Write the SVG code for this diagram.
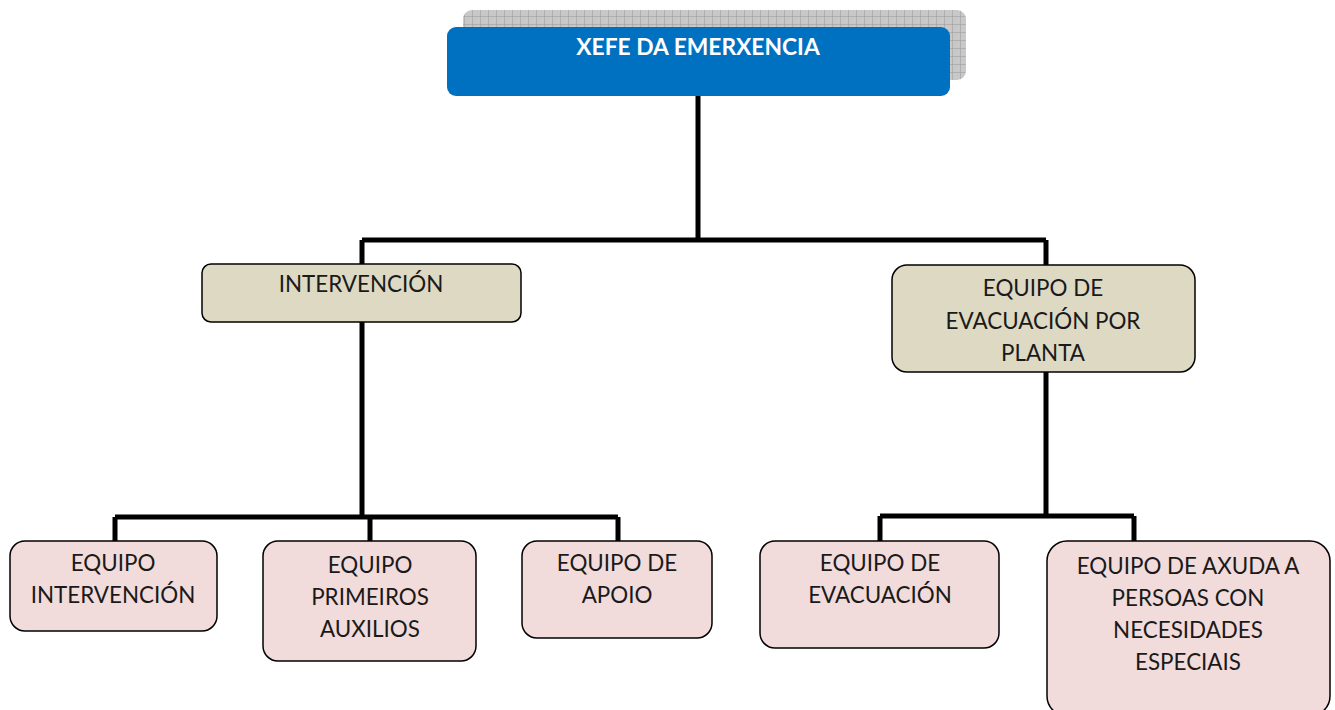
<svg xmlns="http://www.w3.org/2000/svg" width="1335" height="710" viewBox="0 0 1335 710">
<defs>
<pattern id="grid" width="8" height="8" patternUnits="userSpaceOnUse">
<rect width="8" height="8" fill="#c8c8c8"/>
<path d="M0 0H8M0 0V8" stroke="#999" stroke-width="1"/>
</pattern>
</defs>
<style>
.t{font-family:Lato,"Liberation Sans",sans-serif;font-size:22.4px;fill:#1a1a1a;text-anchor:middle}
.tan{fill:#DDD9C3;stroke:#000;stroke-width:1.5}
.pink{fill:#F2DCDB;stroke:#000;stroke-width:1.5}
.c{fill:none;stroke:#000;stroke-width:5}
</style>
<rect width="1335" height="710" fill="#fff"/>
<g id="connectors">
<path class="c" d="M698 96V240M362 240H1046M362 240V264M1046 240V265"/>
<path class="c" d="M362 322V517M115 517H618M115 517V541M370 517V541M618 517V541"/>
<path class="c" d="M1046 372V516M880 516H1134M880 516V541M1134 516V541"/>
</g>
<g id="n-xefe">
<rect x="463" y="10" width="503" height="70" rx="9" fill="url(#grid)"/>
<rect x="447" y="27" width="503" height="69" rx="9" fill="#0070C0"/>
<text class="t" x="698" y="55" style="fill:#fff;font-weight:bold;font-size:22.8px">XEFE DA EMERXENCIA</text>
</g>
<g id="n-intervencion">
<rect class="tan" x="202" y="264" width="319" height="58" rx="9"/>
<text class="t" x="361" y="292">INTERVENCIÓN</text>
</g>
<g id="n-evac-planta">
<rect class="tan" x="892" y="265" width="303" height="107" rx="15"/>
<text class="t" x="1043" y="296">EQUIPO DE</text>
<text class="t" x="1043" y="329">EVACUACIÓN POR</text>
<text class="t" x="1043" y="361">PLANTA</text>
</g>
<g id="n-eq-intervencion">
<rect class="pink" x="10" y="541" width="207" height="90" rx="15"/>
<text class="t" x="113" y="571">EQUIPO</text>
<text class="t" x="113" y="603">INTERVENCIÓN</text>
</g>
<g id="n-primeiros">
<rect class="pink" x="263" y="541" width="213" height="120" rx="15"/>
<text class="t" x="370" y="573">EQUIPO</text>
<text class="t" x="370" y="605">PRIMEIROS</text>
<text class="t" x="370" y="637">AUXILIOS</text>
</g>
<g id="n-apoio">
<rect class="pink" x="522" y="541" width="190" height="97" rx="15"/>
<text class="t" x="617" y="571">EQUIPO DE</text>
<text class="t" x="617" y="603">APOIO</text>
</g>
<g id="n-evacuacion">
<rect class="pink" x="760" y="541" width="239" height="107" rx="15"/>
<text class="t" x="880" y="571">EQUIPO DE</text>
<text class="t" x="880" y="603">EVACUACIÓN</text>
</g>
<g id="n-axuda">
<rect class="pink" x="1047" y="541" width="283" height="175" rx="20"/>
<text class="t" x="1188" y="574">EQUIPO DE AXUDA A</text>
<text class="t" x="1188" y="606">PERSOAS CON</text>
<text class="t" x="1188" y="638">NECESIDADES</text>
<text class="t" x="1188" y="670">ESPECIAIS</text>
</g>
</svg>
